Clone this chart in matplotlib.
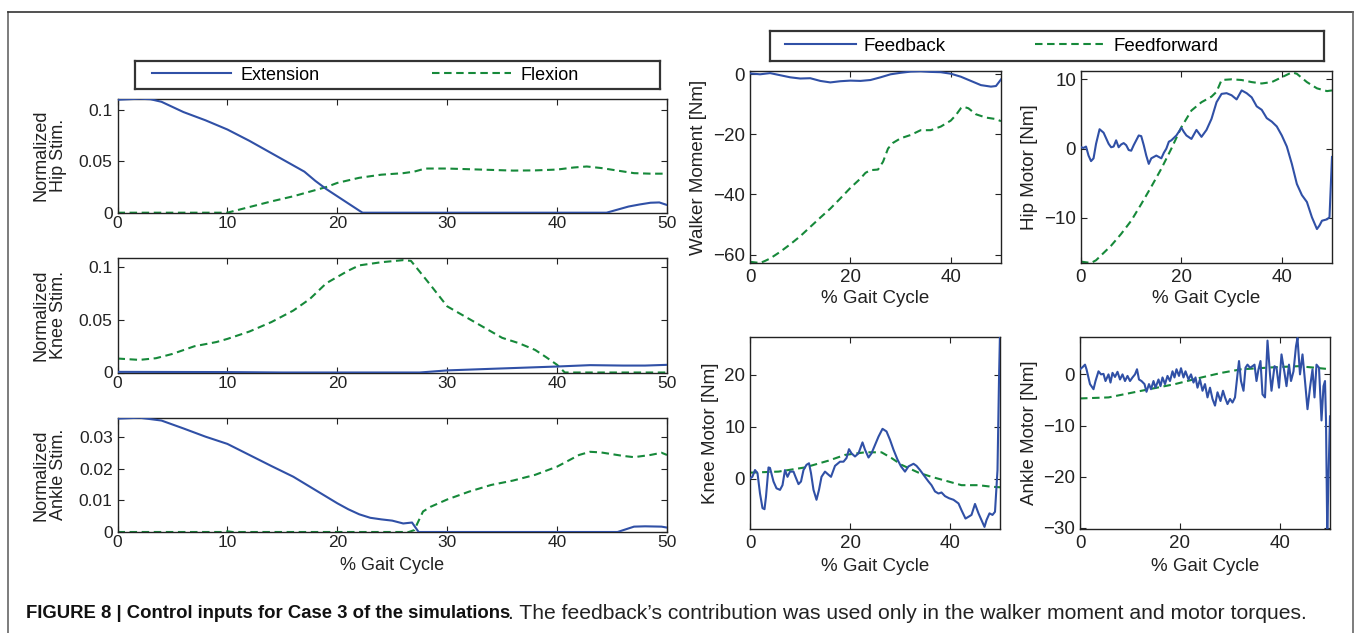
import matplotlib
matplotlib.use('Agg')
import matplotlib.pyplot as plt
from matplotlib.lines import Line2D

plt.rcParams['font.family'] = ['Liberation Sans', 'DejaVu Sans']
plt.rcParams['axes.unicode_minus'] = True

# ---------------- data ----------------
hip_ext_x = [0, 1, 2, 3, 4, 5, 6, 8, 10, 12, 14, 16, 17, 18, 19, 20, 21, 22, 22.3, 30, 40, 44.5, 45.5, 46.5, 47.5, 48.5, 49.3, 50]
hip_ext_y = [0.110, 0.1105, 0.111, 0.1105, 0.108, 0.103, 0.098, 0.090, 0.081, 0.070, 0.058, 0.046, 0.040, 0.031, 0.023, 0.016, 0.009, 0.002, 0, 0, 0, 0, 0.003, 0.006, 0.008, 0.0097, 0.010, 0.0075]
hip_flex_x = [0, 10, 12, 14, 16, 18, 19, 20, 22, 24, 26, 27, 28, 30, 33, 36, 38, 40, 41.5, 42.7, 44, 45.5, 47, 48.5, 50]
hip_flex_y = [0, 0, 0.0055, 0.011, 0.016, 0.022, 0.025, 0.029, 0.034, 0.037, 0.0385, 0.040, 0.043, 0.043, 0.042, 0.041, 0.0412, 0.042, 0.044, 0.045, 0.0435, 0.041, 0.0385, 0.038, 0.038]

knee_ext_x = [0, 10, 15, 27.5, 30, 34, 40, 43, 46, 48, 50]
knee_ext_y = [0.0006, 0.0004, 0, 0, 0.002, 0.0035, 0.0057, 0.007, 0.0066, 0.0066, 0.0073]
knee_flex_x = [0, 2, 3.5, 5, 7, 9, 10, 12, 14, 16, 17.5, 19, 20, 21, 22, 24, 26, 26.7, 27.5, 28.5, 30, 32, 34, 35, 36.5, 38, 39, 40, 40.7, 50]
knee_flex_y = [0.0133, 0.012, 0.0136, 0.0177, 0.025, 0.029, 0.032, 0.039, 0.048, 0.059, 0.070, 0.085, 0.091, 0.097, 0.102, 0.105, 0.107, 0.1063, 0.096, 0.083, 0.063, 0.051, 0.039, 0.033, 0.028, 0.0215, 0.0146, 0.0073, 0, 0]

ankle_ext_x = [0, 2, 4, 6, 8, 10, 12, 14, 16, 18, 20, 21, 22, 23, 24, 25, 26, 26.8, 27.4, 45.5, 47, 48, 49.5, 50]
ankle_ext_y = [0.0359, 0.0362, 0.0353, 0.0328, 0.0302, 0.0279, 0.0244, 0.0209, 0.0175, 0.0133, 0.0091, 0.0072, 0.0056, 0.0045, 0.0040, 0.0036, 0.0027, 0.0030, 0, 0, 0.0017, 0.0018, 0.0017, 0.0014]
ankle_flex_x = [0, 9.5, 10, 10.5, 26.5, 27, 27.8, 28.5, 30, 32, 34, 36, 38, 40, 42, 43, 44, 46, 47, 48.5, 49.5, 50]
ankle_flex_y = [0, 0, 0.0002, 0, 0, 0.0006, 0.0065, 0.0080, 0.0103, 0.0128, 0.0149, 0.0163, 0.0181, 0.0207, 0.0244, 0.0254, 0.0252, 0.0241, 0.0237, 0.0244, 0.0251, 0.0244]

walker_fb_x = [0, 2, 4, 6, 8, 10, 12, 14, 16, 18, 20, 22, 24, 26, 28, 30, 32, 34, 36, 38, 40, 42, 44, 46, 48, 49, 50]
walker_fb_y = [0.3, 0, 0.4, -0.3, -1.0, -1.4, -1.3, -2.2, -2.7, -2.3, -2.1, -2.2, -1.9, -1.0, 0, 0.5, 0.9, 1.0, 0.8, 0.7, 0.2, -0.8, -2.2, -3.6, -4.1, -3.9, -1.7]
walker_ff_x = [0, 2, 3, 4, 6, 8, 10, 12, 14, 16, 18, 20, 22, 23, 24, 25.5, 26.5, 27.5, 28.5, 30, 32, 34, 36, 38, 40, 41, 42, 42.5, 43.5, 45, 47, 49, 50]
walker_ff_y = [-62.4, -62.8, -62.1, -61.3, -59.1, -56.6, -53.9, -50.8, -47.7, -44.7, -41.3, -37.8, -34.7, -32.8, -31.9, -31.7, -29.1, -24.7, -22.8, -21.3, -20.2, -18.6, -18.6, -17.4, -15.4, -13.6, -11.3, -10.8, -11.3, -13.3, -14.4, -14.9, -15.6]

hipm_fb_x = [0, 0.5, 1, 1.5, 2, 2.5, 3, 3.7, 4.5, 5.5, 6, 6.5, 7, 7.5, 8, 8.5, 9, 9.5, 10, 10.5, 11.5, 12, 12.5, 13, 13.5, 14, 15, 16, 16.5, 17, 17.5, 18, 19, 20, 20.5, 21, 22, 23, 24, 25, 26, 27, 28, 29, 30, 31, 32, 33, 34, 35, 36, 37, 38, 39, 40, 41, 42, 43, 44, 45, 46, 47, 47.5, 48, 49, 49.5, 50]
hipm_fb_y = [0.2, 0.1, 0.3, -1.0, -1.8, -1.4, 0.7, 2.8, 2.3, 0.7, 0.2, 0.3, 1.2, 0.2, 0.6, 0.8, 0.5, -0.2, -0.3, 0.5, 1.9, 1.8, 0.5, -1.0, -2.2, -1.4, -1.0, -1.4, -0.6, 0, 1.0, 1.2, 1.9, 3.0, 2.4, 1.9, 1.4, 2.7, 1.7, 2.7, 4.3, 6.7, 7.9, 8.0, 7.7, 7.1, 8.4, 8.0, 7.4, 6.1, 5.6, 4.4, 3.9, 3.2, 1.9, 0.3, -2.2, -5.1, -6.7, -7.7, -9.9, -11.6, -11.1, -10.4, -10.2, -9.9, -1.2]
hipm_ff_x = [0, 2, 3, 4, 6, 8, 10, 12, 14, 16, 18, 20, 22, 24, 26, 27, 28, 30, 32, 34, 36, 38, 40, 42, 43, 45, 47, 49, 50]
hipm_ff_y = [-16.3, -16.5, -16.1, -15.4, -14.0, -12.3, -10.4, -8.0, -5.5, -2.9, 0, 3.1, 5.5, 6.7, 7.5, 8.2, 9.9, 10.0, 9.9, 9.6, 9.4, 9.6, 10.3, 11.0, 10.8, 9.6, 8.7, 8.3, 8.4]

kneem_fb_x = [0, 0.47, 1.0, 1.5, 2.0, 2.5, 2.9, 3.2, 3.7, 4.0, 4.7, 5.3, 6.0, 6.5, 7.0, 7.5, 8.0, 8.7, 9.1, 9.7, 10.2, 10.7, 11.3, 11.8, 12.2, 12.7, 13.3, 13.8, 14.3, 15.0, 15.7, 16.2, 17.0, 18.0, 18.7, 19.3, 19.8, 20.3, 21.0, 21.7, 22.5, 23.0, 23.7, 24.3, 25.0, 25.7, 26.5, 27.3, 28.0, 28.7, 29.5, 30.2, 31.0, 31.7, 32.7, 33.3, 34.0, 35.0, 35.7, 36.3, 37.0, 37.7, 38.3, 39.0, 39.8, 40.7, 41.7, 42.3, 43.1, 43.8, 44.3, 45.0, 45.7, 46.3, 46.9, 47.3, 47.9, 48.5, 49.0, 49.5, 49.8, 50]
kneem_fb_y = [0.1, 0.4, 1.7, 1.1, -2.8, -5.6, -5.8, -3.4, 2.2, 2.1, -0.5, -1.8, -2.1, -1.2, 1.7, 0.4, 1.4, 1.4, 0.4, -1.0, -0.5, 1.7, 2.7, 3.0, 1.1, -2.1, -4.0, -2.1, 0.4, 1.4, 0.8, 0.4, 2.5, 3.3, 3.3, 4.0, 5.7, 4.9, 4.3, 4.9, 7.0, 5.6, 4.1, 4.9, 6.5, 8.1, 9.6, 9.1, 7.5, 5.6, 3.7, 2.4, 1.4, 2.4, 2.9, 2.5, 1.7, 0.4, -0.5, -1.2, -2.4, -2.8, -2.6, -3.3, -3.7, -4.0, -4.7, -6.0, -7.6, -7.2, -6.9, -4.8, -6.6, -7.9, -9.2, -7.9, -6.6, -6.9, -6.3, 1.7, 19.0, 28.0]
kneem_ff_x = [0, 5.7, 11, 15.7, 19, 23, 26.3, 28.3, 30.3, 33.7, 36.3, 39.7, 42.3, 45.7, 48.3, 50]
kneem_ff_y = [1.2, 1.4, 2.2, 3.5, 4.6, 5.1, 5.1, 4.0, 2.7, 1.2, 0.4, -0.5, -1.2, -1.2, -1.5, -1.6]

anklem_fb_x = [0, 0.5, 1.0, 1.3, 2.0, 2.7, 3.1, 3.7, 4.2, 4.7, 5.1, 5.7, 6.1, 6.5, 7.0, 7.5, 8.0, 8.5, 9.0, 9.5, 10.0, 10.5, 11.0, 11.4, 11.8, 12.3, 12.9, 13.3, 13.8, 14.2, 14.7, 15.1, 15.7, 16.1, 16.5, 17.0, 17.5, 18.0, 18.5, 18.9, 19.3, 19.8, 20.2, 20.7, 21.1, 21.7, 22.2, 22.7, 23.1, 23.5, 24.0, 24.5, 25.0, 25.5, 26.0, 26.5, 27.0, 27.5, 28.1, 28.6, 29.0, 29.5, 30.0, 30.5, 31.0, 31.5, 31.8, 32.2, 32.7, 33.1, 33.5, 34.0, 34.5, 34.9, 35.3, 35.7, 36.1, 36.5, 37.0, 37.5, 38.0, 38.3, 38.9, 39.3, 39.8, 40.3, 40.9, 41.3, 41.8, 42.2, 42.7, 43.2, 43.5, 44.0, 44.5, 45.0, 45.5, 46.0, 46.5, 46.9, 47.3, 47.8, 48.3, 48.7, 49.0, 49.2, 49.45, 49.7, 50]
anklem_fb_y = [1.0, 1.4, 1.9, 1.0, -1.9, -2.9, -1.3, 0.6, 0, 0.1, -1.3, 0, -1.6, 0.3, -0.5, 0.5, -1.0, 0, -1.3, -0.3, -1.3, -0.6, 0, 1.0, -1.0, -1.3, -1.9, -3.4, -1.9, -2.9, -1.3, -2.6, -1.0, -2.3, -0.6, -1.9, -0.3, -1.3, 0.6, -0.6, 1.0, -0.3, 1.2, -0.6, 0.6, -1.0, 0, -1.6, -0.6, -2.6, -1.0, -3.2, -1.9, -4.5, -2.6, -4.8, -6.1, -3.5, -5.2, -3.2, -4.5, -5.8, -4.8, -5.5, -4.5, 0, 2.6, -1.3, -3.2, 1.3, 1.9, 1.3, 1.6, 1.9, -1.3, 1.0, 2.6, -3.9, -4.5, 6.6, 0, -3.2, 1.6, 1.3, -2.6, 3.9, 0.3, -2.3, 1.9, -1.3, 0.6, 5.5, 7.1, 0, 3.9, -1.3, -6.8, -2.6, 1.0, -4.5, 1.9, 1.3, -9.0, -2.3, -1.3, -9.0, -31.0, -20.0, -8.2]
anklem_ff_x = [0, 5.7, 12.3, 19, 24.3, 28.3, 32.3, 39, 43.7, 47, 50]
anklem_ff_y = [-4.7, -4.5, -3.2, -1.9, -0.6, 0.3, 1.0, 1.4, 1.6, 1.3, 1.0]

left_xticks = [0, 10, 20, 30, 40, 50]
left_xticklabels = ['0', '10', '20', '30', '40', '50']
right_xticks = [0, 20, 40]
right_xticklabels = ['0', '20', '40']
hip_yticks = [0, 0.05, 0.1]
hip_yticklabels = ['0', '0.05', '0.1']
knee_yticks = [0, 0.05, 0.1]
knee_yticklabels = ['0', '0.05', '0.1']
ankle_yticks = [0, 0.01, 0.02, 0.03]
ankle_yticklabels = ['0', '0.01', '0.02', '0.03']
walker_yticks = [-60, -40, -20, 0]
walker_yticklabels = ['\u221260', '\u221240', '\u221220', '0']
hipm_yticks = [-10, 0, 10]
hipm_yticklabels = ['\u221210', '0', '10']
kneem_yticks = [0, 10, 20]
kneem_yticklabels = ['0', '10', '20']
anklem_yticks = [-30, -20, -10, 0]
anklem_yticklabels = ['\u221230', '\u221220', '\u221210', '0']

left_legend = ['Extension', 'Flexion']
right_legend = ['Feedback', 'Feedforward']
caption_bold = 'FIGURE 8 | Control inputs for Case 3 of the simulations'
caption_rest = '. The feedback\u2019s contribution was used only in the walker moment and motor torques.'

# ---------------- style ----------------
BLUE = '#3050a6'
GREEN = '#16893a'
LW = 1.5
DASH = (3.6, 2.2)
W, H = 1355, 633

fig = plt.figure(figsize=(W / 100, H / 100), dpi=100)


def px_axes(x0, y0, x1, y1):
    return fig.add_axes([x0 / W, 1 - y1 / H, (x1 - x0) / W, (y1 - y0) / H])


def style(ax, xt, xtl, yt, ytl, xlim, ylim, fs, xpad, ypad):
    ax.set_xlim(*xlim)
    ax.set_ylim(*ylim)
    ax.set_xticks(xt)
    ax.set_xticklabels(xtl)
    ax.set_yticks(yt)
    ax.set_yticklabels(ytl)
    ax.tick_params(direction='in', top=True, right=True, length=4, width=0.8,
                   labelsize=fs, colors='#222222')
    ax.tick_params(axis='x', pad=xpad)
    ax.tick_params(axis='y', pad=ypad)
    for s in ax.spines.values():
        s.set_color('#222222')
        s.set_linewidth(1.0)


def draw(ax, xb, yb, xg, yg):
    ax.plot(xg, yg, color=GREEN, lw=LW, dashes=DASH, zorder=2)
    ax.plot(xb, yb, color=BLUE, lw=LW, zorder=3)


# left column
ax_hip = px_axes(117.5, 98.7, 667, 212.7)
ax_knee = px_axes(117.5, 257.5, 667, 372.5)
ax_ank = px_axes(117.5, 417.7, 667, 532)
left = [
    (ax_hip, hip_ext_x, hip_ext_y, hip_flex_x, hip_flex_y, hip_yticks, hip_yticklabels, (0, 0.111), 'Normalized\nHip Stim.'),
    (ax_knee, knee_ext_x, knee_ext_y, knee_flex_x, knee_flex_y, knee_yticks, knee_yticklabels, (0, 0.1095), 'Normalized\nKnee Stim.'),
    (ax_ank, ankle_ext_x, ankle_ext_y, ankle_flex_x, ankle_flex_y, ankle_yticks, ankle_yticklabels, (0, 0.0362), 'Normalized\nAnkle Stim.'),
]
for ax, xb, yb, xg, yg, yt, ytl, yl, lab in left:
    draw(ax, xb, yb, xg, yg)
    style(ax, left_xticks, left_xticklabels, yt, ytl, (0, 50), yl, 12.5, 2.5, 3.5)
    ax.set_ylabel(lab, fontsize=13, linespacing=1.0, va='center', color='#222222')
    ax.yaxis.set_label_coords(-0.123, 0.5)
ax_ank.set_xlabel('% Gait Cycle', fontsize=13, va='center', color='#222222')
ax_ank.xaxis.set_label_coords(0.5, (532 - 565) / 114.3)

# right column
ax_w = px_axes(750, 71, 1001, 263)
ax_hm = px_axes(1081, 71, 1332, 263)
ax_km = px_axes(750, 337, 1000, 529)
ax_am = px_axes(1080, 337, 1330, 529)
right = [
    (ax_w, walker_fb_x, walker_fb_y, walker_ff_x, walker_ff_y, walker_yticks, walker_yticklabels, (-62.8, 1.1), 'Walker Moment [Nm]', -0.207, -0.184),
    (ax_hm, hipm_fb_x, hipm_fb_y, hipm_ff_x, hipm_ff_y, hipm_yticks, hipm_yticklabels, (-16.5, 11.2), 'Hip Motor [Nm]', -0.207, -0.184),
    (ax_km, kneem_fb_x, kneem_fb_y, kneem_ff_x, kneem_ff_y, kneem_yticks, kneem_yticklabels, (-9.6, 27.2), 'Knee Motor [Nm]', -0.16, -0.193),
    (ax_am, anklem_fb_x, anklem_fb_y, anklem_ff_x, anklem_ff_y, anklem_yticks, anklem_yticklabels, (-30.2, 7.3), 'Ankle Motor [Nm]', -0.204, -0.193),
]
for ax, xb, yb, xg, yg, yt, ytl, yl, lab, lx, ly in right:
    draw(ax, xb, yb, xg, yg)
    style(ax, right_xticks, right_xticklabels, yt, ytl, (0, 50), yl, 13.5, 4.3, 3.5)
    ax.set_ylabel(lab, fontsize=13.5, va='center', color='#222222')
    ax.yaxis.set_label_coords(lx, 0.5)
    ax.set_xlabel('% Gait Cycle', fontsize=13.5, va='center', color='#222222')
    ax.xaxis.set_label_coords(0.5, ly)


# legend boxes
def legend_box(x0, y0, x1, y1, labels, fs, hl, htp, cs, offset):
    lax = px_axes(x0, y0, x1, y1)
    lax.set_xticks([])
    lax.set_yticks([])
    lax.set_facecolor('none')
    for s in lax.spines.values():
        s.set_color('#333333')
        s.set_linewidth(1.6)
    handles = [Line2D([], [], color=BLUE, lw=LW),
               Line2D([], [], color=GREEN, lw=LW, dashes=DASH)]
    lax.legend(handles, labels, loc='center left', bbox_to_anchor=(offset, 0.5),
               ncol=2, frameon=False, fontsize=fs, handlelength=hl,
               handletextpad=htp, columnspacing=cs, borderaxespad=0, borderpad=0)


legend_box(135, 61, 660, 89, left_legend, 13, 4.4, 0.5, 6.2, 17 / 525)
legend_box(770, 31, 1324, 61, right_legend, 13.5, 3.8, 0.37, 4.8, 15 / 554)

# outer frame
fig.add_artist(Line2D([8 / W, 8 / W], [0, 1 - 12 / H], transform=fig.transFigure, color='#666666', lw=1.2))
fig.add_artist(Line2D([8 / W, 1353 / W], [1 - 12 / H, 1 - 12 / H], transform=fig.transFigure, color='#333333', lw=1.2))
fig.add_artist(Line2D([1353 / W, 1353 / W], [0, 1 - 12 / H], transform=fig.transFigure, color='#666666', lw=1.2))

# caption
fig.canvas.draw()
r = fig.canvas.get_renderer()
cy = 1 - 613.5 / H
t1 = fig.text(26 / W, cy, caption_bold, fontsize=12, weight='bold', va='center', ha='left',
              color='#111111', family=['Liberation Sans Narrow', 'Liberation Sans', 'DejaVu Sans'])
w1 = t1.get_window_extent(r).width
t1.set_fontsize(12 * 482 / w1)
t2 = fig.text(508 / W, cy, caption_rest, fontsize=12, va='center', ha='left', color='#222222')
w2 = t2.get_window_extent(r).width
t2.set_fontsize(12 * 801 / w2)

fig.savefig('out.png', dpi=100)
